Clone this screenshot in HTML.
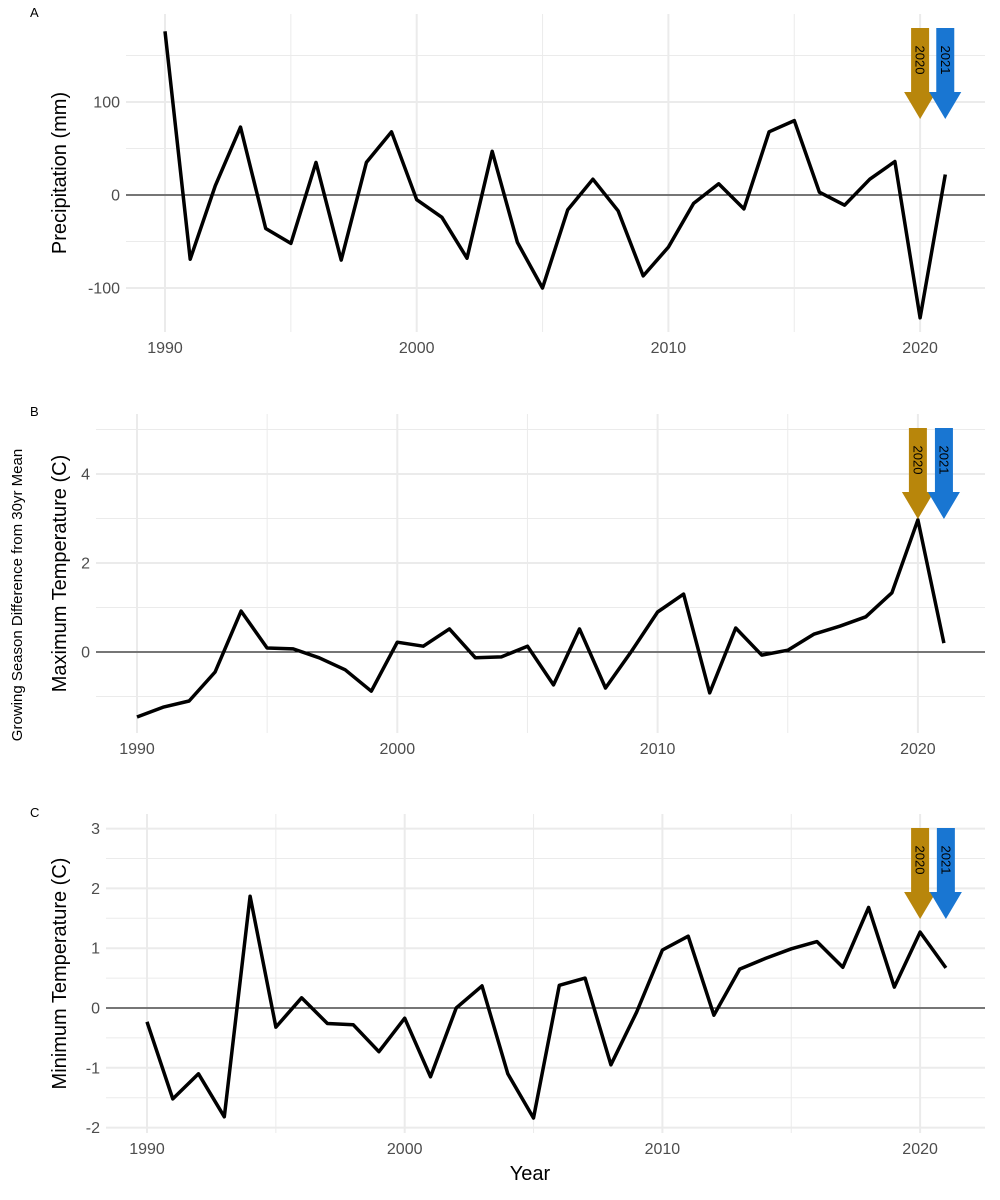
<!DOCTYPE html>
<html><head><meta charset="utf-8"><style>
body{margin:0;background:#fff;}
svg{display:block;font-family:"Liberation Sans",sans-serif;}
</style></head><body>
<svg id="chart" width="1000" height="1200" viewBox="0 0 1000 1200" xmlns="http://www.w3.org/2000/svg"></svg>
<script>
const years = [1990,1991,1992,1993,1994,1995,1996,1997,1998,1999,2000,2001,2002,2003,2004,2005,2006,2007,2008,2009,2010,2011,2012,2013,2014,2015,2016,2017,2018,2019,2020,2021];
const precipValues = [176,-69,10,73,-36,-52,35,-70,35,68,-5,-24,-68,47,-51,-100,-16,17,-17,-87,-56,-9,12,-15,68,80,3,-11,17,36,-132,22];
const tmaxValues = [-1.46,-1.24,-1.1,-0.45,0.92,0.09,0.07,-0.13,-0.4,-0.88,0.22,0.13,0.52,-0.13,-0.11,0.13,-0.74,0.52,-0.81,0.02,0.9,1.3,-0.92,0.54,-0.07,0.04,0.4,0.58,0.79,1.33,2.97,0.2];
const tminValues = [-0.23,-1.52,-1.1,-1.82,1.87,-0.32,0.17,-0.26,-0.28,-0.73,-0.17,-1.15,0.0,0.37,-1.1,-1.84,0.38,0.5,-0.95,-0.07,0.97,1.2,-0.12,0.65,0.83,0.99,1.11,0.68,1.68,0.35,1.27,0.67];
const xTicks = [1990,2000,2010,2020];
const xMinor = [1995,2005,2015];
const precipTicks = [-100,0,100];
const precipMinor = [-50,50,150];
const tmaxTicks = [0,2,4];
const tmaxMinor = [-1,1,3,5];
const tminTicks = [-2,-1,0,1,2,3];
const tminMinor = [-1.5,-0.5,0.5,1.5,2.5];
const arrowYears = [2020,2021];
const arrowColors = ['#b8860b','#1976d2'];

const NS='http://www.w3.org/2000/svg';
const svg=document.getElementById('chart');
function mk(tag,attrs,parent){const e=document.createElementNS(NS,tag);for(const k in attrs)e.setAttribute(k,attrs[k]);(parent||svg).appendChild(e);return e;}

function panel(cfg){
  const g=mk('g',{});
  
  
  const X=v=>cfg.x0+(v-1990)*cfg.xs;
  const Y=v=>cfg.y0-v*cfg.ys;
  const maxX=985;
  cfg.yMinor.forEach(v=>{const l=mk('line',{x1:cfg.left,x2:maxX,y1:Y(v),y2:Y(v),stroke:'#ebebeb','stroke-width':1},g);
    });
  xMinor.forEach(v=>{const l=mk('line',{x1:X(v),x2:X(v),y1:cfg.top,y2:cfg.bottom,stroke:'#ebebeb','stroke-width':1},g);
    });
  cfg.yTicks.forEach(v=>{const l=mk('line',{x1:cfg.left,x2:maxX,y1:Y(v),y2:Y(v),stroke:'#ebebeb','stroke-width':2},g);
    
    const t=mk('text',{x:cfg.left-6,y:Y(v)+5.5,'text-anchor':'end','font-size':16,fill:'#4d4d4d'},g);t.textContent=v;
    });
  xTicks.forEach(v=>{const l=mk('line',{x1:X(v),x2:X(v),y1:cfg.top,y2:cfg.bottom,stroke:'#ebebeb','stroke-width':2},g);
    
    const t=mk('text',{x:X(v),y:cfg.bottom+21,'text-anchor':'middle','font-size':16,fill:'#4d4d4d'},g);t.textContent=v;
    });
  const z=mk('line',{x1:cfg.left,x2:maxX,y1:Y(0),y2:Y(0),stroke:'#000','stroke-width':1},g);
  
  const pts=years.map((yr,i)=>X(yr).toFixed(1)+','+Y(cfg.values[i]).toFixed(1)).join(' ');
  const pl=mk('polyline',{points:pts,fill:'none',stroke:'#000','stroke-width':3.5,'stroke-linejoin':'round'},g);
  
  arrowYears.forEach((yr,i)=>{
    const cx=X(yr);
    const top=cfg.top+14, bodyEnd=top+64, tip=top+91;
    const a=mk('polygon',{points:`${cx-9},${top} ${cx+9},${top} ${cx+9},${bodyEnd} ${cx+16},${bodyEnd} ${cx},${tip} ${cx-16},${bodyEnd} ${cx-9},${bodyEnd}`,fill:arrowColors[i]},g);
    
    const t=mk('text',{x:0,y:4.5,'text-anchor':'middle','font-size':13,fill:'#000',transform:`translate(${cx},${top+32}) rotate(90)`},g);
    t.textContent=yr;
  });
  const yt=mk('text',{x:0,y:0,'text-anchor':'middle','font-size':20,fill:'#000',transform:`translate(${cfg.titleX},${(cfg.top+cfg.bottom)/2}) rotate(-90)`},g);
  yt.textContent=cfg.title;
  const tag=mk('text',{x:cfg.tagX,y:cfg.tagY,'font-size':13,fill:'#000'},g);
  tag.textContent=cfg.id;
}
panel({id:'A',values:precipValues,yTicks:precipTicks,yMinor:precipMinor,x0:165,xs:25.17,y0:195,ys:0.93,left:126,top:14,bottom:332,title:'Precipitation (mm)',titleX:66,tagX:30,tagY:17});
panel({id:'B',values:tmaxValues,yTicks:tmaxTicks,yMinor:tmaxMinor,x0:137,xs:26.03,y0:652,ys:44.5,left:96,top:414,bottom:733,title:'Maximum Temperature (C)',titleX:66,tagX:30,tagY:416});
panel({id:'C',values:tminValues,yTicks:tminTicks,yMinor:tminMinor,x0:147,xs:25.77,y0:1008,ys:59.8,left:106,top:814,bottom:1133,title:'Minimum Temperature (C)',titleX:66,tagX:30,tagY:817});
const outer=mk('text',{x:0,y:0,'text-anchor':'middle','font-size':15,fill:'#000',transform:'translate(22,595) rotate(-90)'});
outer.textContent='Growing Season Difference from 30yr Mean';


const xt=mk('text',{x:530,y:1180,'text-anchor':'middle','font-size':20,fill:'#000'});
xt.textContent='Year';


</script>
</body></html>
